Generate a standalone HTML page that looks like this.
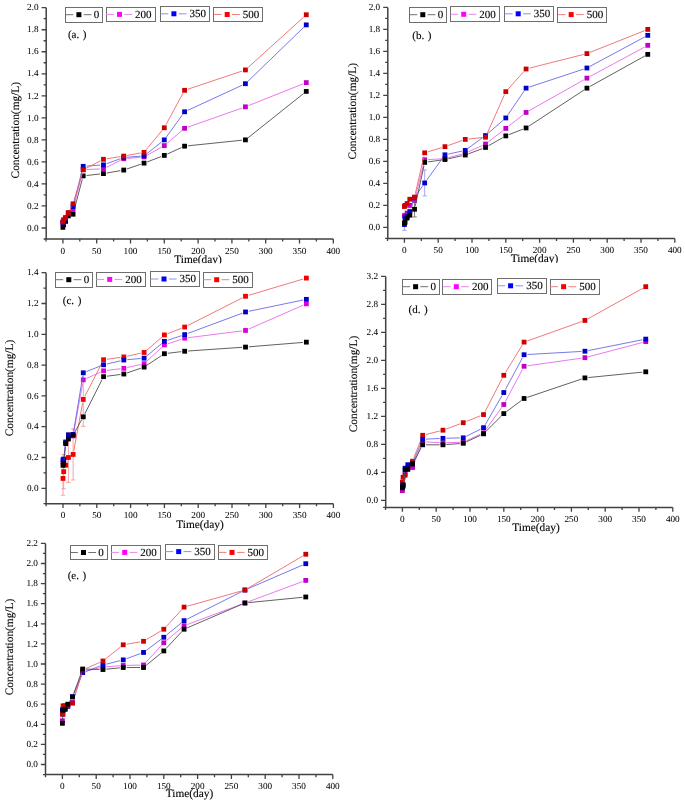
<!DOCTYPE html>
<html><head><meta charset="utf-8"><style>
html,body{margin:0;padding:0;background:#fff;width:685px;height:803px;overflow:hidden}
svg{display:block;filter:blur(0.3px)}
text{font-family:"Liberation Serif",serif;fill:#000;stroke:#000;stroke-width:0.12px;text-rendering:geometricPrecision}
.t{font-size:9.2px;stroke-width:0.04px}
.ti{font-size:11.35px}
.lg{font-size:11.0px}
</style></head><body>
<svg width="685" height="803" viewBox="0 0 685 803">
<rect width="685" height="803" fill="#fff"/>
<g><path d="M46.2 7.7V239.01H333.3" fill="none" stroke="#424242" stroke-width="1.5"/>
<text x="38.6" y="230.7" class="t" text-anchor="end">0.0</text>
<text x="38.6" y="208.67" class="t" text-anchor="end">0.2</text>
<text x="38.6" y="186.64" class="t" text-anchor="end">0.4</text>
<text x="38.6" y="164.61" class="t" text-anchor="end">0.6</text>
<text x="38.6" y="142.58" class="t" text-anchor="end">0.8</text>
<text x="38.6" y="120.55" class="t" text-anchor="end">1.0</text>
<text x="38.6" y="98.52" class="t" text-anchor="end">1.2</text>
<text x="38.6" y="76.49" class="t" text-anchor="end">1.4</text>
<text x="38.6" y="54.46" class="t" text-anchor="end">1.6</text>
<text x="38.6" y="32.43" class="t" text-anchor="end">1.8</text>
<text x="38.6" y="10.4" class="t" text-anchor="end">2.0</text>
<text x="62.9" y="253.61" class="t" text-anchor="middle">0</text>
<text x="96.7" y="253.61" class="t" text-anchor="middle">50</text>
<text x="130.5" y="253.61" class="t" text-anchor="middle">100</text>
<text x="164.3" y="253.61" class="t" text-anchor="middle">150</text>
<text x="198.1" y="253.61" class="t" text-anchor="middle">200</text>
<text x="231.9" y="253.61" class="t" text-anchor="middle">250</text>
<text x="265.7" y="253.61" class="t" text-anchor="middle">300</text>
<text x="299.5" y="253.61" class="t" text-anchor="middle">350</text>
<text x="333.3" y="253.61" class="t" text-anchor="middle">400</text>
<path d="M46.2 228h-4.6M46.2 216.99h-2.6M46.2 205.97h-4.6M46.2 194.95h-2.6M46.2 183.94h-4.6M46.2 172.93h-2.6M46.2 161.91h-4.6M46.2 150.89h-2.6M46.2 139.88h-4.6M46.2 128.87h-2.6M46.2 117.85h-4.6M46.2 106.83h-2.6M46.2 95.82h-4.6M46.2 84.8h-2.6M46.2 73.79h-4.6M46.2 62.77h-2.6M46.2 51.76h-4.6M46.2 40.74h-2.6M46.2 29.73h-4.6M46.2 18.71h-2.6M46.2 7.7h-4.6M46.2 239.01h-2.6M62.9 239.01v4.4M96.7 239.01v4.4M130.5 239.01v4.4M164.3 239.01v4.4M198.1 239.01v4.4M231.9 239.01v4.4M265.7 239.01v4.4M299.5 239.01v4.4M333.3 239.01v4.4M46 239.01v2.6M79.8 239.01v2.6M113.6 239.01v2.6M147.4 239.01v2.6M181.2 239.01v2.6M215 239.01v2.6M248.8 239.01v2.6M282.6 239.01v2.6M316.4 239.01v2.6" fill="none" stroke="#424242" stroke-width="1.3"/>
<text x="0" y="0" class="ti" text-anchor="middle" transform="translate(19.3 130.2) rotate(-90)">Concentration(mg/L)</text>
<clipPath id="clipa"><rect x="0" y="0" width="685" height="263.3"/></clipPath>
<text x="198" y="262.7" class="ti" text-anchor="middle" clip-path="url(#clipa)">Time(day)</text>
<text x="67.9" y="38.2" class="lg">(a. <tspan dx="0.8">)</tspan></text>
<rect x="65.5" y="7.5" width="37" height="15" fill="#fff" stroke="#6e6e6e" stroke-width="1"/>
<path d="M65.5 14.7h7.8M83.7 14.7h7.8" stroke="#707070" stroke-width="1"/>
<rect x="76.4" y="12.2" width="5" height="5" fill="#000000"/>
<text x="96.5" y="18.1" class="lg" text-anchor="middle">0</text>
<rect x="106.5" y="7.5" width="49" height="14" fill="#fff" stroke="#6e6e6e" stroke-width="1"/>
<path d="M106.1 14.4h7.8M124.3 14.4h7.8" stroke="#e888e8" stroke-width="1"/>
<rect x="117" y="11.9" width="5" height="5" fill="#ff00ff"/>
<text x="135.1" y="17.8" class="lg">200</text>
<rect x="160.5" y="6.5" width="49" height="15" fill="#fff" stroke="#6e6e6e" stroke-width="1"/>
<path d="M160.5 13.8h7.8M178.7 13.8h7.8" stroke="#9090e8" stroke-width="1"/>
<rect x="171.4" y="11.3" width="5" height="5" fill="#0000ff"/>
<text x="189.5" y="17.2" class="lg">350</text>
<rect x="213.5" y="7.5" width="49" height="14" fill="#fff" stroke="#6e6e6e" stroke-width="1"/>
<path d="M213.8 14.5h7.8M232 14.5h7.8" stroke="#ee8080" stroke-width="1"/>
<rect x="224.7" y="12" width="5" height="5" fill="#ff0000"/>
<text x="242.8" y="17.9" class="lg">500</text>
<path d="M73.91 210.94L82.31 179.19M86.56 175.51L100.08 173.97M106.81 173L120.39 170.64M126.96 168.96L140.8 164.22M147.2 161.91L161.12 156.62M167.39 154L181.49 147.57M187.96 145.81L242.04 140.23M248.08 137.76L303.6 93.53" fill="none" stroke="#454545" stroke-width="0.85"/>
<rect x="60.5" y="224.94" width="4.8" height="4.8" fill="#000000"/>
<rect x="61.18" y="222.3" width="4.8" height="4.8" fill="#000000"/>
<rect x="63.2" y="218.99" width="4.8" height="4.8" fill="#000000"/>
<rect x="65.91" y="213.48" width="4.8" height="4.8" fill="#000000"/>
<rect x="70.64" y="211.83" width="4.8" height="4.8" fill="#000000"/>
<rect x="80.78" y="173.5" width="4.8" height="4.8" fill="#000000"/>
<rect x="101.06" y="171.19" width="4.8" height="4.8" fill="#000000"/>
<rect x="121.34" y="167.66" width="4.8" height="4.8" fill="#000000"/>
<rect x="141.62" y="160.72" width="4.8" height="4.8" fill="#000000"/>
<rect x="161.9" y="153.01" width="4.8" height="4.8" fill="#000000"/>
<rect x="182.18" y="143.76" width="4.8" height="4.8" fill="#000000"/>
<rect x="243.02" y="137.48" width="4.8" height="4.8" fill="#000000"/>
<rect x="303.86" y="89.01" width="4.8" height="4.8" fill="#000000"/>
<path d="M73.88 206.2L82.34 172.92M86.58 169.49L100.06 168.98M106.5 167.33L120.7 160.24M127.13 158.42L140.63 157.25M146.99 155.29L161.33 147.27M166.89 143.4L181.99 130.52M187.79 127.18L242.21 107.97M248.58 105.58L303.1 83.86" fill="none" stroke="#e860e8" stroke-width="0.85"/>
<rect x="60.5" y="220.09" width="4.8" height="4.8" fill="#c000c8"/>
<rect x="61.18" y="218.44" width="4.8" height="4.8" fill="#c000c8"/>
<rect x="63.2" y="215.69" width="4.8" height="4.8" fill="#c000c8"/>
<rect x="65.91" y="211.28" width="4.8" height="4.8" fill="#c000c8"/>
<rect x="70.64" y="207.09" width="4.8" height="4.8" fill="#c000c8"/>
<rect x="80.78" y="167.22" width="4.8" height="4.8" fill="#c000c8"/>
<rect x="101.06" y="166.45" width="4.8" height="4.8" fill="#c000c8"/>
<rect x="121.34" y="156.32" width="4.8" height="4.8" fill="#c000c8"/>
<rect x="141.62" y="154.55" width="4.8" height="4.8" fill="#c000c8"/>
<rect x="161.9" y="143.21" width="4.8" height="4.8" fill="#c000c8"/>
<rect x="182.18" y="125.91" width="4.8" height="4.8" fill="#c000c8"/>
<rect x="243.02" y="104.43" width="4.8" height="4.8" fill="#c000c8"/>
<rect x="303.86" y="80.2" width="4.8" height="4.8" fill="#c000c8"/>
<path d="M70.29 210.37L71.06 209.29M73.87 203.22L82.35 169.61M86.57 166.08L100.07 165.12M106.66 163.72L120.54 158.67M127.13 157.23L140.63 156.13M146.69 153.75L161.63 141.98M166.29 137.12L182.59 114.55M187.67 110.37L242.33 85.13M247.86 81.34L303.82 27.25" fill="none" stroke="#6060e8" stroke-width="0.85"/>
<rect x="60.5" y="220.09" width="4.8" height="4.8" fill="#0000c8"/>
<rect x="61.18" y="218.99" width="4.8" height="4.8" fill="#0000c8"/>
<rect x="63.2" y="215.69" width="4.8" height="4.8" fill="#0000c8"/>
<rect x="65.91" y="210.73" width="4.8" height="4.8" fill="#0000c8"/>
<rect x="70.64" y="204.12" width="4.8" height="4.8" fill="#0000c8"/>
<rect x="80.78" y="163.92" width="4.8" height="4.8" fill="#0000c8"/>
<rect x="101.06" y="162.48" width="4.8" height="4.8" fill="#0000c8"/>
<rect x="121.34" y="155.1" width="4.8" height="4.8" fill="#0000c8"/>
<rect x="141.62" y="153.45" width="4.8" height="4.8" fill="#0000c8"/>
<rect x="161.9" y="137.48" width="4.8" height="4.8" fill="#0000c8"/>
<rect x="182.18" y="109.39" width="4.8" height="4.8" fill="#0000c8"/>
<rect x="243.02" y="81.3" width="4.8" height="4.8" fill="#0000c8"/>
<rect x="303.86" y="22.48" width="4.8" height="4.8" fill="#0000c8"/>
<path d="M69.92 209.58L71.43 206.76M74.01 200.51L82.21 173.1M86.19 168.27L100.45 160.84M106.82 158.74L120.38 156.6M127.08 155.45L140.68 152.94M146.18 149.71L162.14 130.39M165.92 124.77L182.96 93.3M187.8 89.23L242.2 71.01M247.94 67.65L303.74 17.03" fill="none" stroke="#ee6060" stroke-width="0.85"/>
<rect x="60.5" y="219.54" width="4.8" height="4.8" fill="#cc0000"/>
<rect x="61.18" y="217.34" width="4.8" height="4.8" fill="#cc0000"/>
<rect x="63.2" y="215.14" width="4.8" height="4.8" fill="#cc0000"/>
<rect x="65.91" y="210.18" width="4.8" height="4.8" fill="#cc0000"/>
<rect x="70.64" y="201.37" width="4.8" height="4.8" fill="#cc0000"/>
<rect x="80.78" y="167.44" width="4.8" height="4.8" fill="#cc0000"/>
<rect x="101.06" y="156.87" width="4.8" height="4.8" fill="#cc0000"/>
<rect x="121.34" y="153.67" width="4.8" height="4.8" fill="#cc0000"/>
<rect x="141.62" y="149.93" width="4.8" height="4.8" fill="#cc0000"/>
<rect x="161.9" y="125.36" width="4.8" height="4.8" fill="#cc0000"/>
<rect x="182.18" y="87.91" width="4.8" height="4.8" fill="#cc0000"/>
<rect x="243.02" y="67.53" width="4.8" height="4.8" fill="#cc0000"/>
<rect x="303.86" y="12.35" width="4.8" height="4.8" fill="#cc0000"/></g>
<g><path d="M387.8 7.4V238.4H674.8" fill="none" stroke="#424242" stroke-width="1.5"/>
<text x="380.2" y="230.1" class="t" text-anchor="end">0.0</text>
<text x="380.2" y="208.1" class="t" text-anchor="end">0.2</text>
<text x="380.2" y="186.1" class="t" text-anchor="end">0.4</text>
<text x="380.2" y="164.1" class="t" text-anchor="end">0.6</text>
<text x="380.2" y="142.1" class="t" text-anchor="end">0.8</text>
<text x="380.2" y="120.1" class="t" text-anchor="end">1.0</text>
<text x="380.2" y="98.1" class="t" text-anchor="end">1.2</text>
<text x="380.2" y="76.1" class="t" text-anchor="end">1.4</text>
<text x="380.2" y="54.1" class="t" text-anchor="end">1.6</text>
<text x="380.2" y="32.1" class="t" text-anchor="end">1.8</text>
<text x="380.2" y="10.1" class="t" text-anchor="end">2.0</text>
<text x="404.4" y="253" class="t" text-anchor="middle">0</text>
<text x="438.2" y="253" class="t" text-anchor="middle">50</text>
<text x="472" y="253" class="t" text-anchor="middle">100</text>
<text x="505.8" y="253" class="t" text-anchor="middle">150</text>
<text x="539.6" y="253" class="t" text-anchor="middle">200</text>
<text x="573.4" y="253" class="t" text-anchor="middle">250</text>
<text x="607.2" y="253" class="t" text-anchor="middle">300</text>
<text x="641" y="253" class="t" text-anchor="middle">350</text>
<text x="674.8" y="253" class="t" text-anchor="middle">400</text>
<path d="M387.8 227.4h-4.6M387.8 216.4h-2.6M387.8 205.4h-4.6M387.8 194.4h-2.6M387.8 183.4h-4.6M387.8 172.4h-2.6M387.8 161.4h-4.6M387.8 150.4h-2.6M387.8 139.4h-4.6M387.8 128.4h-2.6M387.8 117.4h-4.6M387.8 106.4h-2.6M387.8 95.4h-4.6M387.8 84.4h-2.6M387.8 73.4h-4.6M387.8 62.4h-2.6M387.8 51.4h-4.6M387.8 40.4h-2.6M387.8 29.4h-4.6M387.8 18.4h-2.6M387.8 7.4h-4.6M387.8 238.4h-2.6M404.4 238.4v4.4M438.2 238.4v4.4M472 238.4v4.4M505.8 238.4v4.4M539.6 238.4v4.4M573.4 238.4v4.4M607.2 238.4v4.4M641 238.4v4.4M674.8 238.4v4.4M387.5 238.4v2.6M421.3 238.4v2.6M455.1 238.4v2.6M488.9 238.4v2.6M522.7 238.4v2.6M556.5 238.4v2.6M590.3 238.4v2.6M624.1 238.4v2.6M657.9 238.4v2.6" fill="none" stroke="#424242" stroke-width="1.3"/>
<text x="0" y="0" class="ti" text-anchor="middle" transform="translate(356.3 111.2) rotate(-90)">Concentration(mg/L)</text>
<clipPath id="clipb"><rect x="0" y="0" width="685" height="262.8"/></clipPath>
<text x="534.5" y="262.2" class="ti" text-anchor="middle" clip-path="url(#clipb)">Time(day)</text>
<text x="412.3" y="38.5" class="lg">(b. <tspan dx="0.8">)</tspan></text>
<rect x="409.5" y="7.5" width="37" height="15" fill="#fff" stroke="#6e6e6e" stroke-width="1"/>
<path d="M409.4 14.7h7.8M427.6 14.7h7.8" stroke="#707070" stroke-width="1"/>
<rect x="420.3" y="12.2" width="5" height="5" fill="#000000"/>
<text x="440.4" y="18.1" class="lg" text-anchor="middle">0</text>
<rect x="450.5" y="6.5" width="49" height="15" fill="#fff" stroke="#6e6e6e" stroke-width="1"/>
<path d="M450.3 14.3h7.8M468.5 14.3h7.8" stroke="#e888e8" stroke-width="1"/>
<rect x="461.2" y="11.8" width="5" height="5" fill="#ff00ff"/>
<text x="479.3" y="17.7" class="lg">200</text>
<rect x="504.5" y="6.5" width="49" height="15" fill="#fff" stroke="#6e6e6e" stroke-width="1"/>
<path d="M504.8 13.8h7.8M523 13.8h7.8" stroke="#9090e8" stroke-width="1"/>
<rect x="515.7" y="11.3" width="5" height="5" fill="#0000ff"/>
<text x="533.8" y="17.2" class="lg">350</text>
<rect x="557.5" y="7.5" width="49" height="15" fill="#fff" stroke="#6e6e6e" stroke-width="1"/>
<path d="M557.8 14.6h7.8M576 14.6h7.8" stroke="#ee8080" stroke-width="1"/>
<rect x="568.7" y="12.1" width="5" height="5" fill="#ff0000"/>
<text x="586.8" y="18" class="lg">500</text>
<path d="M408.23 209.89L408.68 208.61M415.36 197.15L423.86 163.05M428.08 159.57L441.56 158.83M448.24 157.76L461.96 154.04M468.34 151.75L482.42 145.42M488.21 141.95L503.11 130.47M508.47 126.3L523.41 114.55M529.04 110.78L583.96 79.8M589.91 76.52L644.77 46.96" fill="none" stroke="#e860e8" stroke-width="0.85"/>
<rect x="402" y="213.45" width="4.8" height="4.8" fill="#c000c8"/>
<rect x="402.68" y="212.9" width="4.8" height="4.8" fill="#c000c8"/>
<rect x="404.7" y="210.7" width="4.8" height="4.8" fill="#c000c8"/>
<rect x="407.41" y="203" width="4.8" height="4.8" fill="#c000c8"/>
<rect x="412.14" y="198.05" width="4.8" height="4.8" fill="#c000c8"/>
<rect x="422.28" y="157.35" width="4.8" height="4.8" fill="#c000c8"/>
<rect x="442.56" y="156.25" width="4.8" height="4.8" fill="#c000c8"/>
<rect x="462.84" y="150.75" width="4.8" height="4.8" fill="#c000c8"/>
<rect x="483.12" y="141.62" width="4.8" height="4.8" fill="#c000c8"/>
<rect x="503.4" y="126" width="4.8" height="4.8" fill="#c000c8"/>
<rect x="523.68" y="110.05" width="4.8" height="4.8" fill="#c000c8"/>
<rect x="584.52" y="75.73" width="4.8" height="4.8" fill="#c000c8"/>
<rect x="645.36" y="42.95" width="4.8" height="4.8" fill="#c000c8"/>
<path d="M410.91 208.34L413.44 200.92M416.47 194.9L422.75 185.76M426.67 180.2L442.97 157.56M448.28 154.08L461.92 151.12M467.98 148.39L482.78 137.56M488.09 133.32L503.23 120.18M507.71 115.14L524.17 90.95M529.31 87.07L583.69 69.08M589.92 66.4L644.76 36.95" fill="none" stroke="#6060e8" stroke-width="0.85"/>
<path d="M404.4 218.82V230.26M402.2 218.82h4.4M402.2 230.26h4.4" stroke="#9090f0" stroke-width="0.8" fill="none"/>
<path d="M424.68 169.98V195.94M422.48 169.98h4.4M422.48 195.94h4.4" stroke="#9090f0" stroke-width="0.8" fill="none"/>
<rect x="402" y="222.14" width="4.8" height="4.8" fill="#0000c8"/>
<rect x="402.68" y="215.1" width="4.8" height="4.8" fill="#0000c8"/>
<rect x="404.7" y="214" width="4.8" height="4.8" fill="#0000c8"/>
<rect x="407.41" y="209.16" width="4.8" height="4.8" fill="#0000c8"/>
<rect x="412.14" y="195.3" width="4.8" height="4.8" fill="#0000c8"/>
<rect x="422.28" y="180.56" width="4.8" height="4.8" fill="#0000c8"/>
<rect x="442.56" y="152.4" width="4.8" height="4.8" fill="#0000c8"/>
<rect x="462.84" y="148" width="4.8" height="4.8" fill="#0000c8"/>
<rect x="483.12" y="133.15" width="4.8" height="4.8" fill="#0000c8"/>
<rect x="503.4" y="115.55" width="4.8" height="4.8" fill="#0000c8"/>
<rect x="523.68" y="85.74" width="4.8" height="4.8" fill="#0000c8"/>
<rect x="584.52" y="65.61" width="4.8" height="4.8" fill="#0000c8"/>
<rect x="645.36" y="32.94" width="4.8" height="4.8" fill="#0000c8"/>
<path d="M411.93 212.53L412.42 211.91M415.26 205.93L423.96 165.71M428.05 161.92L441.59 160M448.28 158.79L461.92 155.76M468.42 153.83L482.34 148.62M488.47 145.75L502.85 137.56M508.97 134.64L522.91 129.2M528.92 126.1L584.08 90M589.89 86.49L644.79 56.02" fill="none" stroke="#454545" stroke-width="0.85"/>
<path d="M414.54 201.55V216.95M412.34 201.55h4.4M412.34 216.95h4.4" stroke="#606060" stroke-width="0.8" fill="none"/>
<rect x="402" y="220.6" width="4.8" height="4.8" fill="#000000"/>
<rect x="402.68" y="219.83" width="4.8" height="4.8" fill="#000000"/>
<rect x="404.7" y="215.65" width="4.8" height="4.8" fill="#000000"/>
<rect x="407.41" y="212.79" width="4.8" height="4.8" fill="#000000"/>
<rect x="412.14" y="206.85" width="4.8" height="4.8" fill="#000000"/>
<rect x="422.28" y="159.99" width="4.8" height="4.8" fill="#000000"/>
<rect x="442.56" y="157.13" width="4.8" height="4.8" fill="#000000"/>
<rect x="462.84" y="152.62" width="4.8" height="4.8" fill="#000000"/>
<rect x="483.12" y="145.03" width="4.8" height="4.8" fill="#000000"/>
<rect x="503.4" y="133.48" width="4.8" height="4.8" fill="#000000"/>
<rect x="523.68" y="125.56" width="4.8" height="4.8" fill="#000000"/>
<rect x="584.52" y="85.74" width="4.8" height="4.8" fill="#000000"/>
<rect x="645.36" y="51.97" width="4.8" height="4.8" fill="#000000"/>
<path d="M415.3 193.73L423.92 156.13M427.93 151.83L441.71 147.65M448.16 145.51L462.04 140.55M468.62 139.03L482.14 137.57M486.9 134.09L504.42 94.77M508.07 89.13L523.81 71.53M529.38 68.17L583.62 54.43M590.08 52.34L644.6 30.66" fill="none" stroke="#ee6060" stroke-width="0.85"/>
<rect x="402" y="204.1" width="4.8" height="4.8" fill="#cc0000"/>
<rect x="402.68" y="203" width="4.8" height="4.8" fill="#cc0000"/>
<rect x="404.7" y="201.13" width="4.8" height="4.8" fill="#cc0000"/>
<rect x="407.41" y="196.84" width="4.8" height="4.8" fill="#cc0000"/>
<rect x="412.14" y="194.64" width="4.8" height="4.8" fill="#cc0000"/>
<rect x="422.28" y="150.42" width="4.8" height="4.8" fill="#cc0000"/>
<rect x="442.56" y="144.26" width="4.8" height="4.8" fill="#cc0000"/>
<rect x="462.84" y="137" width="4.8" height="4.8" fill="#cc0000"/>
<rect x="483.12" y="134.8" width="4.8" height="4.8" fill="#cc0000"/>
<rect x="503.4" y="89.26" width="4.8" height="4.8" fill="#cc0000"/>
<rect x="523.68" y="66.6" width="4.8" height="4.8" fill="#cc0000"/>
<rect x="584.52" y="51.2" width="4.8" height="4.8" fill="#cc0000"/>
<rect x="645.36" y="27" width="4.8" height="4.8" fill="#cc0000"/></g>
<g><path d="M46.1 272.7V503.7H333.4" fill="none" stroke="#424242" stroke-width="1.5"/>
<text x="38.5" y="491" class="t" text-anchor="end">0.0</text>
<text x="38.5" y="460.2" class="t" text-anchor="end">0.2</text>
<text x="38.5" y="429.4" class="t" text-anchor="end">0.4</text>
<text x="38.5" y="398.6" class="t" text-anchor="end">0.6</text>
<text x="38.5" y="367.8" class="t" text-anchor="end">0.8</text>
<text x="38.5" y="337" class="t" text-anchor="end">1.0</text>
<text x="38.5" y="306.2" class="t" text-anchor="end">1.2</text>
<text x="38.5" y="275.4" class="t" text-anchor="end">1.4</text>
<text x="63" y="518.3" class="t" text-anchor="middle">0</text>
<text x="96.8" y="518.3" class="t" text-anchor="middle">50</text>
<text x="130.6" y="518.3" class="t" text-anchor="middle">100</text>
<text x="164.4" y="518.3" class="t" text-anchor="middle">150</text>
<text x="198.2" y="518.3" class="t" text-anchor="middle">200</text>
<text x="232" y="518.3" class="t" text-anchor="middle">250</text>
<text x="265.8" y="518.3" class="t" text-anchor="middle">300</text>
<text x="299.6" y="518.3" class="t" text-anchor="middle">350</text>
<text x="333.4" y="518.3" class="t" text-anchor="middle">400</text>
<path d="M46.1 488.3h-4.6M46.1 472.9h-2.6M46.1 457.5h-4.6M46.1 442.1h-2.6M46.1 426.7h-4.6M46.1 411.3h-2.6M46.1 395.9h-4.6M46.1 380.5h-2.6M46.1 365.1h-4.6M46.1 349.7h-2.6M46.1 334.3h-4.6M46.1 318.9h-2.6M46.1 303.5h-4.6M46.1 288.1h-2.6M46.1 272.7h-4.6M46.1 503.7h-2.6M63 503.7v4.4M96.8 503.7v4.4M130.6 503.7v4.4M164.4 503.7v4.4M198.2 503.7v4.4M232 503.7v4.4M265.8 503.7v4.4M299.6 503.7v4.4M333.4 503.7v4.4M46.1 503.7v2.6M79.9 503.7v2.6M113.7 503.7v2.6M147.5 503.7v2.6M181.3 503.7v2.6M215.1 503.7v2.6M248.9 503.7v2.6M282.7 503.7v2.6M316.5 503.7v2.6" fill="none" stroke="#424242" stroke-width="1.3"/>
<text x="0" y="0" class="ti" text-anchor="middle" transform="translate(12.6 388) rotate(-90)">Concentration(mg/L)</text>
<text x="200" y="527.7" class="ti" text-anchor="middle">Time(day)</text>
<text x="62.8" y="304.3" class="lg">(c. <tspan dx="0.8">)</tspan></text>
<rect x="55.5" y="272.5" width="37" height="15" fill="#fff" stroke="#6e6e6e" stroke-width="1"/>
<path d="M55.4 279.7h7.8M73.6 279.7h7.8" stroke="#707070" stroke-width="1"/>
<rect x="66.3" y="277.2" width="5" height="5" fill="#000000"/>
<text x="86.4" y="283.1" class="lg" text-anchor="middle">0</text>
<rect x="96.5" y="272.5" width="49" height="14" fill="#fff" stroke="#6e6e6e" stroke-width="1"/>
<path d="M96.3 279.4h7.8M114.5 279.4h7.8" stroke="#e888e8" stroke-width="1"/>
<rect x="107.2" y="276.9" width="5" height="5" fill="#ff00ff"/>
<text x="125.3" y="282.8" class="lg">200</text>
<rect x="150.5" y="271.5" width="49" height="15" fill="#fff" stroke="#6e6e6e" stroke-width="1"/>
<path d="M150.6 279h7.8M168.8 279h7.8" stroke="#9090e8" stroke-width="1"/>
<rect x="161.5" y="276.5" width="5" height="5" fill="#0000ff"/>
<text x="179.6" y="282.4" class="lg">350</text>
<rect x="203.5" y="272.5" width="49" height="15" fill="#fff" stroke="#6e6e6e" stroke-width="1"/>
<path d="M203.3 279.7h7.8M221.5 279.7h7.8" stroke="#ee8080" stroke-width="1"/>
<rect x="214.2" y="277.2" width="5" height="5" fill="#ff0000"/>
<text x="232.3" y="283.1" class="lg">500</text>
<path d="M66.83 461.99L67.28 460.71M73.76 451.08L82.66 402.79M84.83 396.41L102.01 362.74M106.93 359.25L120.47 357.4M127.16 356.21L140.8 353.2M146.69 350.25L161.83 337.14M167.57 333.69L181.51 328.29M187.71 325.53L242.49 297.8M248.78 295.29L303.1 279.06" fill="none" stroke="#ee6060" stroke-width="0.85"/>
<path d="M63 461.66V495.23M60.8 461.66h4.4M60.8 495.23h4.4" stroke="#f09090" stroke-width="0.8" fill="none"/>
<path d="M63.68 454.57V488.76M61.48 454.57h4.4M61.48 488.76h4.4" stroke="#f09090" stroke-width="0.8" fill="none"/>
<path d="M68.41 432.55V482.45M66.21 432.55h4.4M66.21 482.45h4.4" stroke="#f09090" stroke-width="0.8" fill="none"/>
<path d="M73.14 428.86V479.98M70.94 428.86h4.4M70.94 479.98h4.4" stroke="#f09090" stroke-width="0.8" fill="none"/>
<path d="M83.28 372.49V426.39M81.08 372.49h4.4M81.08 426.39h4.4" stroke="#f09090" stroke-width="0.8" fill="none"/>
<rect x="60.6" y="476.04" width="4.8" height="4.8" fill="#f00000"/>
<rect x="61.28" y="469.27" width="4.8" height="4.8" fill="#f00000"/>
<rect x="63.3" y="462.8" width="4.8" height="4.8" fill="#f00000"/>
<rect x="66.01" y="455.1" width="4.8" height="4.8" fill="#f00000"/>
<rect x="70.74" y="452.02" width="4.8" height="4.8" fill="#f00000"/>
<rect x="80.88" y="397.04" width="4.8" height="4.8" fill="#f00000"/>
<rect x="101.16" y="357.31" width="4.8" height="4.8" fill="#f00000"/>
<rect x="121.44" y="354.54" width="4.8" height="4.8" fill="#f00000"/>
<rect x="141.72" y="350.07" width="4.8" height="4.8" fill="#f00000"/>
<rect x="162" y="332.52" width="4.8" height="4.8" fill="#f00000"/>
<rect x="182.28" y="324.66" width="4.8" height="4.8" fill="#f00000"/>
<rect x="243.12" y="293.86" width="4.8" height="4.8" fill="#f00000"/>
<rect x="303.96" y="275.69" width="4.8" height="4.8" fill="#f00000"/>
<path d="M64.05 457.2L65.33 445.48M73.75 432.59L82.67 383.23M86.38 378.49L100.46 372.19M106.94 370.39L120.46 368.74M127.16 367.58L140.8 364.47M146.61 361.4L161.91 347.24M167.62 343.85L181.46 339.23M188.05 337.72L242.15 330.88M248.63 329.09L303.25 305.17" fill="none" stroke="#e860e8" stroke-width="0.85"/>
<rect x="60.6" y="459.72" width="4.8" height="4.8" fill="#dc00dc"/>
<rect x="61.28" y="458.18" width="4.8" height="4.8" fill="#dc00dc"/>
<rect x="63.3" y="439.7" width="4.8" height="4.8" fill="#dc00dc"/>
<rect x="66.01" y="435.08" width="4.8" height="4.8" fill="#dc00dc"/>
<rect x="70.74" y="433.54" width="4.8" height="4.8" fill="#dc00dc"/>
<rect x="80.88" y="377.48" width="4.8" height="4.8" fill="#dc00dc"/>
<rect x="101.16" y="368.4" width="4.8" height="4.8" fill="#dc00dc"/>
<rect x="121.44" y="365.93" width="4.8" height="4.8" fill="#dc00dc"/>
<rect x="141.72" y="361.31" width="4.8" height="4.8" fill="#dc00dc"/>
<rect x="162" y="342.53" width="4.8" height="4.8" fill="#dc00dc"/>
<rect x="182.28" y="335.75" width="4.8" height="4.8" fill="#dc00dc"/>
<rect x="243.12" y="328.05" width="4.8" height="4.8" fill="#dc00dc"/>
<rect x="303.96" y="301.41" width="4.8" height="4.8" fill="#dc00dc"/>
<path d="M64.08 455.66L65.3 445.48M66.89 438.92L67.22 438.05M73.69 431.05L82.73 376.15M86.44 371.55L100.4 366.04M106.87 364.01L120.53 360.8M127.23 359.71L140.73 358.48M146.74 356L161.78 343.55M167.62 340.31L181.46 335.69M187.87 333.42L242.33 313.16M248.85 311.28L303.03 300.03" fill="none" stroke="#6060e8" stroke-width="0.85"/>
<rect x="60.6" y="457.41" width="4.8" height="4.8" fill="#0000c8"/>
<rect x="61.28" y="456.64" width="4.8" height="4.8" fill="#0000c8"/>
<rect x="63.3" y="439.7" width="4.8" height="4.8" fill="#0000c8"/>
<rect x="66.01" y="432.46" width="4.8" height="4.8" fill="#0000c8"/>
<rect x="70.74" y="432" width="4.8" height="4.8" fill="#0000c8"/>
<rect x="80.88" y="370.4" width="4.8" height="4.8" fill="#0000c8"/>
<rect x="101.16" y="362.39" width="4.8" height="4.8" fill="#0000c8"/>
<rect x="121.44" y="357.62" width="4.8" height="4.8" fill="#0000c8"/>
<rect x="141.72" y="355.77" width="4.8" height="4.8" fill="#0000c8"/>
<rect x="162" y="338.98" width="4.8" height="4.8" fill="#0000c8"/>
<rect x="182.28" y="332.21" width="4.8" height="4.8" fill="#0000c8"/>
<rect x="243.12" y="309.57" width="4.8" height="4.8" fill="#0000c8"/>
<rect x="303.96" y="296.94" width="4.8" height="4.8" fill="#0000c8"/>
<path d="M64.02 460.28L65.36 447.02M74.79 432.2L81.63 419.82M84.81 413.81L102.03 379.69M106.93 376.21L120.47 374.47M127.06 372.93L140.9 368.2M146.96 365.23L161.56 355.58M167.78 353.29L181.3 351.65M188.07 351.01L242.13 347.31M248.91 346.81L302.97 342.43" fill="none" stroke="#454545" stroke-width="0.85"/>
<rect x="60.6" y="462.95" width="4.8" height="4.8" fill="#000000"/>
<rect x="61.28" y="461.26" width="4.8" height="4.8" fill="#000000"/>
<rect x="63.3" y="441.24" width="4.8" height="4.8" fill="#000000"/>
<rect x="66.01" y="436.62" width="4.8" height="4.8" fill="#000000"/>
<rect x="70.74" y="432.77" width="4.8" height="4.8" fill="#000000"/>
<rect x="80.88" y="414.44" width="4.8" height="4.8" fill="#000000"/>
<rect x="101.16" y="374.25" width="4.8" height="4.8" fill="#000000"/>
<rect x="121.44" y="371.63" width="4.8" height="4.8" fill="#000000"/>
<rect x="141.72" y="364.7" width="4.8" height="4.8" fill="#000000"/>
<rect x="162" y="351.3" width="4.8" height="4.8" fill="#000000"/>
<rect x="182.28" y="348.84" width="4.8" height="4.8" fill="#000000"/>
<rect x="243.12" y="344.68" width="4.8" height="4.8" fill="#000000"/>
<rect x="303.96" y="339.75" width="4.8" height="4.8" fill="#000000"/></g>
<g><path d="M385.7 276.4V507.4H672.8" fill="none" stroke="#424242" stroke-width="1.5"/>
<text x="378.1" y="503.1" class="t" text-anchor="end">0.0</text>
<text x="378.1" y="475.1" class="t" text-anchor="end">0.4</text>
<text x="378.1" y="447.1" class="t" text-anchor="end">0.8</text>
<text x="378.1" y="419.1" class="t" text-anchor="end">1.2</text>
<text x="378.1" y="391.1" class="t" text-anchor="end">1.6</text>
<text x="378.1" y="363.1" class="t" text-anchor="end">2.0</text>
<text x="378.1" y="335.1" class="t" text-anchor="end">2.4</text>
<text x="378.1" y="307.1" class="t" text-anchor="end">2.8</text>
<text x="378.1" y="279.1" class="t" text-anchor="end">3.2</text>
<text x="402.4" y="522" class="t" text-anchor="middle">0</text>
<text x="436.2" y="522" class="t" text-anchor="middle">50</text>
<text x="470" y="522" class="t" text-anchor="middle">100</text>
<text x="503.8" y="522" class="t" text-anchor="middle">150</text>
<text x="537.6" y="522" class="t" text-anchor="middle">200</text>
<text x="571.4" y="522" class="t" text-anchor="middle">250</text>
<text x="605.2" y="522" class="t" text-anchor="middle">300</text>
<text x="639" y="522" class="t" text-anchor="middle">350</text>
<text x="672.8" y="522" class="t" text-anchor="middle">400</text>
<path d="M385.7 500.4h-4.6M385.7 486.4h-2.6M385.7 472.4h-4.6M385.7 458.4h-2.6M385.7 444.4h-4.6M385.7 430.4h-2.6M385.7 416.4h-4.6M385.7 402.4h-2.6M385.7 388.4h-4.6M385.7 374.4h-2.6M385.7 360.4h-4.6M385.7 346.4h-2.6M385.7 332.4h-4.6M385.7 318.4h-2.6M385.7 304.4h-4.6M385.7 290.4h-2.6M385.7 276.4h-4.6M385.7 507.4h-2.6M402.4 507.4v4.4M436.2 507.4v4.4M470 507.4v4.4M503.8 507.4v4.4M537.6 507.4v4.4M571.4 507.4v4.4M605.2 507.4v4.4M639 507.4v4.4M672.8 507.4v4.4M385.5 507.4v2.6M419.3 507.4v2.6M453.1 507.4v2.6M486.9 507.4v2.6M520.7 507.4v2.6M554.5 507.4v2.6M588.3 507.4v2.6M622.1 507.4v2.6M655.9 507.4v2.6" fill="none" stroke="#424242" stroke-width="1.3"/>
<text x="0" y="0" class="ti" text-anchor="middle" transform="translate(357.1 384) rotate(-90)">Concentration(mg/L)</text>
<text x="536" y="531" class="ti" text-anchor="middle">Time(day)</text>
<text x="408.5" y="313" class="lg">(d. <tspan dx="0.8">)</tspan></text>
<rect x="402.5" y="279.5" width="37" height="15" fill="#fff" stroke="#6e6e6e" stroke-width="1"/>
<path d="M402.2 286.7h7.8M420.4 286.7h7.8" stroke="#707070" stroke-width="1"/>
<rect x="413.1" y="284.2" width="5" height="5" fill="#000000"/>
<text x="433.2" y="290.1" class="lg" text-anchor="middle">0</text>
<rect x="442.5" y="279.5" width="49" height="15" fill="#fff" stroke="#6e6e6e" stroke-width="1"/>
<path d="M442.9 286.7h7.8M461.1 286.7h7.8" stroke="#e888e8" stroke-width="1"/>
<rect x="453.8" y="284.2" width="5" height="5" fill="#ff00ff"/>
<text x="471.9" y="290.1" class="lg">200</text>
<rect x="497.5" y="278.5" width="49" height="15" fill="#fff" stroke="#6e6e6e" stroke-width="1"/>
<path d="M497.2 285.8h7.8M515.4 285.8h7.8" stroke="#9090e8" stroke-width="1"/>
<rect x="508.1" y="283.3" width="5" height="5" fill="#0000ff"/>
<text x="526.2" y="289.2" class="lg">350</text>
<rect x="550.5" y="279.5" width="49" height="15" fill="#fff" stroke="#6e6e6e" stroke-width="1"/>
<path d="M550.2 286.7h7.8M568.4 286.7h7.8" stroke="#ee8080" stroke-width="1"/>
<rect x="561.1" y="284.2" width="5" height="5" fill="#ff0000"/>
<text x="579.2" y="290.1" class="lg">500</text>
<path d="M403.62 483.04L404.56 477.16M413.79 464.34L421.43 444.97M426.08 441.97L439.56 442.63M446.36 442.71L459.84 442.38M466.32 440.86L480.44 434.22M485.5 430.02L501.82 407.26M505.39 401.5L522.49 369.28M527.45 365.8L581.55 358.15M588.21 356.8L642.47 342.51" fill="none" stroke="#e860e8" stroke-width="0.85"/>
<rect x="400" y="488.2" width="4.8" height="4.8" fill="#c000c8"/>
<rect x="400.68" y="484" width="4.8" height="4.8" fill="#c000c8"/>
<rect x="402.7" y="471.4" width="4.8" height="4.8" fill="#c000c8"/>
<rect x="405.41" y="467.2" width="4.8" height="4.8" fill="#c000c8"/>
<rect x="410.14" y="465.1" width="4.8" height="4.8" fill="#c000c8"/>
<rect x="420.28" y="439.41" width="4.8" height="4.8" fill="#c000c8"/>
<rect x="440.56" y="440.39" width="4.8" height="4.8" fill="#c000c8"/>
<rect x="460.84" y="439.9" width="4.8" height="4.8" fill="#c000c8"/>
<rect x="481.12" y="430.38" width="4.8" height="4.8" fill="#c000c8"/>
<rect x="501.4" y="402.1" width="4.8" height="4.8" fill="#c000c8"/>
<rect x="521.68" y="363.88" width="4.8" height="4.8" fill="#c000c8"/>
<rect x="582.52" y="355.27" width="4.8" height="4.8" fill="#c000c8"/>
<rect x="643.36" y="339.24" width="4.8" height="4.8" fill="#c000c8"/>
<path d="M406.23 471.99L406.68 470.71M409.85 464.78L410.5 463.92M413.78 458.03L421.44 438.47M425.98 434.47L439.66 431.02M446.15 429.01L460.05 423.88M466.4 421.44L480.36 415.84M485.08 411.56L502.24 378.33M505.57 372.41L522.31 345.03M527.28 340.99L581.72 321.57M587.89 318.78L642.79 288.34" fill="none" stroke="#ee6060" stroke-width="0.85"/>
<rect x="400" y="479.8" width="4.8" height="4.8" fill="#cc0000"/>
<rect x="400.68" y="474.9" width="4.8" height="4.8" fill="#cc0000"/>
<rect x="402.7" y="472.8" width="4.8" height="4.8" fill="#cc0000"/>
<rect x="405.41" y="465.1" width="4.8" height="4.8" fill="#cc0000"/>
<rect x="410.14" y="458.8" width="4.8" height="4.8" fill="#cc0000"/>
<rect x="420.28" y="432.9" width="4.8" height="4.8" fill="#cc0000"/>
<rect x="440.56" y="427.79" width="4.8" height="4.8" fill="#cc0000"/>
<rect x="460.84" y="420.3" width="4.8" height="4.8" fill="#cc0000"/>
<rect x="481.12" y="412.18" width="4.8" height="4.8" fill="#cc0000"/>
<rect x="501.4" y="372.91" width="4.8" height="4.8" fill="#cc0000"/>
<rect x="521.68" y="339.73" width="4.8" height="4.8" fill="#cc0000"/>
<rect x="582.52" y="318.03" width="4.8" height="4.8" fill="#cc0000"/>
<rect x="643.36" y="284.29" width="4.8" height="4.8" fill="#cc0000"/>
<path d="M403.48 481.62L404.7 471.58M413.86 460.17L421.36 442.42M426.08 439.13L439.56 438.47M446.36 438.23L459.84 437.9M466.28 436.3L480.48 429.19M485.22 424.73L502.1 395.47M505.41 389.53L522.47 357.73M527.47 354.53L581.53 351.43M588.25 350.57L642.43 339.78" fill="none" stroke="#6060e8" stroke-width="0.85"/>
<rect x="400" y="484" width="4.8" height="4.8" fill="#0000c8"/>
<rect x="400.68" y="482.6" width="4.8" height="4.8" fill="#0000c8"/>
<rect x="402.7" y="465.8" width="4.8" height="4.8" fill="#0000c8"/>
<rect x="405.41" y="462.3" width="4.8" height="4.8" fill="#0000c8"/>
<rect x="410.14" y="460.9" width="4.8" height="4.8" fill="#0000c8"/>
<rect x="420.28" y="436.89" width="4.8" height="4.8" fill="#0000c8"/>
<rect x="440.56" y="435.91" width="4.8" height="4.8" fill="#0000c8"/>
<rect x="460.84" y="435.42" width="4.8" height="4.8" fill="#0000c8"/>
<rect x="481.12" y="425.27" width="4.8" height="4.8" fill="#0000c8"/>
<rect x="501.4" y="390.13" width="4.8" height="4.8" fill="#0000c8"/>
<rect x="521.68" y="352.33" width="4.8" height="4.8" fill="#0000c8"/>
<rect x="582.52" y="348.83" width="4.8" height="4.8" fill="#0000c8"/>
<rect x="643.36" y="336.72" width="4.8" height="4.8" fill="#0000c8"/>
<path d="M403.53 481.63L404.65 473.18M414.13 460.99L421.09 447.83M426.08 444.82L439.56 444.82M446.35 444.56L459.85 443.54M466.32 441.84L480.44 435.27M485.93 431.43L501.39 416M506.53 411.57L521.35 400.51M527.3 397.39L581.7 378.99M588.3 377.56L642.38 372.15" fill="none" stroke="#454545" stroke-width="0.85"/>
<rect x="400" y="485.4" width="4.8" height="4.8" fill="#000000"/>
<rect x="400.68" y="482.6" width="4.8" height="4.8" fill="#000000"/>
<rect x="402.7" y="467.41" width="4.8" height="4.8" fill="#000000"/>
<rect x="405.41" y="466.5" width="4.8" height="4.8" fill="#000000"/>
<rect x="410.14" y="461.6" width="4.8" height="4.8" fill="#000000"/>
<rect x="420.28" y="442.42" width="4.8" height="4.8" fill="#000000"/>
<rect x="440.56" y="442.42" width="4.8" height="4.8" fill="#000000"/>
<rect x="460.84" y="440.88" width="4.8" height="4.8" fill="#000000"/>
<rect x="481.12" y="431.43" width="4.8" height="4.8" fill="#000000"/>
<rect x="501.4" y="411.2" width="4.8" height="4.8" fill="#000000"/>
<rect x="521.68" y="396.08" width="4.8" height="4.8" fill="#000000"/>
<rect x="582.52" y="375.5" width="4.8" height="4.8" fill="#000000"/>
<rect x="643.36" y="369.41" width="4.8" height="4.8" fill="#000000"/></g>
<g><path d="M45.5 543.4V774.55H332.8" fill="none" stroke="#424242" stroke-width="1.5"/>
<text x="37.9" y="767.2" class="t" text-anchor="end">0.0</text>
<text x="37.9" y="747.1" class="t" text-anchor="end">0.2</text>
<text x="37.9" y="727" class="t" text-anchor="end">0.4</text>
<text x="37.9" y="706.9" class="t" text-anchor="end">0.6</text>
<text x="37.9" y="686.8" class="t" text-anchor="end">0.8</text>
<text x="37.9" y="666.7" class="t" text-anchor="end">1.0</text>
<text x="37.9" y="646.6" class="t" text-anchor="end">1.2</text>
<text x="37.9" y="626.5" class="t" text-anchor="end">1.4</text>
<text x="37.9" y="606.4" class="t" text-anchor="end">1.6</text>
<text x="37.9" y="586.3" class="t" text-anchor="end">1.8</text>
<text x="37.9" y="566.2" class="t" text-anchor="end">2.0</text>
<text x="37.9" y="546.1" class="t" text-anchor="end">2.2</text>
<text x="62.4" y="789.15" class="t" text-anchor="middle">0</text>
<text x="96.2" y="789.15" class="t" text-anchor="middle">50</text>
<text x="130" y="789.15" class="t" text-anchor="middle">100</text>
<text x="163.8" y="789.15" class="t" text-anchor="middle">150</text>
<text x="197.6" y="789.15" class="t" text-anchor="middle">200</text>
<text x="231.4" y="789.15" class="t" text-anchor="middle">250</text>
<text x="265.2" y="789.15" class="t" text-anchor="middle">300</text>
<text x="299" y="789.15" class="t" text-anchor="middle">350</text>
<text x="332.8" y="789.15" class="t" text-anchor="middle">400</text>
<path d="M45.5 764.5h-4.6M45.5 754.45h-2.6M45.5 744.4h-4.6M45.5 734.35h-2.6M45.5 724.3h-4.6M45.5 714.25h-2.6M45.5 704.2h-4.6M45.5 694.15h-2.6M45.5 684.1h-4.6M45.5 674.05h-2.6M45.5 664h-4.6M45.5 653.95h-2.6M45.5 643.9h-4.6M45.5 633.85h-2.6M45.5 623.8h-4.6M45.5 613.75h-2.6M45.5 603.7h-4.6M45.5 593.65h-2.6M45.5 583.6h-4.6M45.5 573.55h-2.6M45.5 563.5h-4.6M45.5 553.45h-2.6M45.5 543.4h-4.6M45.5 774.55h-2.6M62.4 774.55v4.4M96.2 774.55v4.4M130 774.55v4.4M163.8 774.55v4.4M197.6 774.55v4.4M231.4 774.55v4.4M265.2 774.55v4.4M299 774.55v4.4M332.8 774.55v4.4M45.5 774.55v2.6M79.3 774.55v2.6M113.1 774.55v2.6M146.9 774.55v2.6M180.7 774.55v2.6M214.5 774.55v2.6M248.3 774.55v2.6M282.1 774.55v2.6M315.9 774.55v2.6" fill="none" stroke="#424242" stroke-width="1.3"/>
<text x="0" y="0" class="ti" text-anchor="middle" transform="translate(12.8 647) rotate(-90)">Concentration(mg/L)</text>
<text x="189.5" y="796.8" class="ti" text-anchor="middle">Time(day)</text>
<text x="67.7" y="578.8" class="lg">(e. <tspan dx="0.8">)</tspan></text>
<rect x="70.5" y="545.5" width="37" height="14" fill="#fff" stroke="#6e6e6e" stroke-width="1"/>
<path d="M70.1 552.5h7.8M88.3 552.5h7.8" stroke="#707070" stroke-width="1"/>
<rect x="81" y="550" width="5" height="5" fill="#000000"/>
<text x="101.1" y="555.9" class="lg" text-anchor="middle">0</text>
<rect x="111.5" y="545.5" width="49" height="14" fill="#fff" stroke="#6e6e6e" stroke-width="1"/>
<path d="M111.3 552.4h7.8M129.5 552.4h7.8" stroke="#e888e8" stroke-width="1"/>
<rect x="122.2" y="549.9" width="5" height="5" fill="#ff00ff"/>
<text x="140.3" y="555.8" class="lg">200</text>
<rect x="165.5" y="544.5" width="49" height="15" fill="#fff" stroke="#6e6e6e" stroke-width="1"/>
<path d="M165.3 551.6h7.8M183.5 551.6h7.8" stroke="#9090e8" stroke-width="1"/>
<rect x="176.2" y="549.1" width="5" height="5" fill="#0000ff"/>
<text x="194.3" y="555" class="lg">350</text>
<rect x="218.5" y="545.5" width="49" height="14" fill="#fff" stroke="#6e6e6e" stroke-width="1"/>
<path d="M218.6 552.4h7.8M236.8 552.4h7.8" stroke="#ee8080" stroke-width="1"/>
<rect x="229.5" y="549.9" width="5" height="5" fill="#ff0000"/>
<text x="247.6" y="555.8" class="lg">500</text>
<path d="M73.62 698.97L81.6 675.26M85.98 671.22L99.66 667.83M106.35 666.76L119.85 665.76M126.64 665.42L140.12 665.09M145.81 662.49L161.51 645.31M166.4 640.6L181.48 627.9M187.27 624.52L241.73 604.19M248.11 601.81L302.57 581.57" fill="none" stroke="#e860e8" stroke-width="0.85"/>
<rect x="60" y="718.38" width="4.8" height="4.8" fill="#c000c8"/>
<rect x="60.68" y="711.85" width="4.8" height="4.8" fill="#c000c8"/>
<rect x="62.7" y="706.83" width="4.8" height="4.8" fill="#c000c8"/>
<rect x="65.41" y="703.81" width="4.8" height="4.8" fill="#c000c8"/>
<rect x="70.14" y="699.79" width="4.8" height="4.8" fill="#c000c8"/>
<rect x="80.28" y="669.64" width="4.8" height="4.8" fill="#c000c8"/>
<rect x="100.56" y="664.62" width="4.8" height="4.8" fill="#c000c8"/>
<rect x="120.84" y="663.11" width="4.8" height="4.8" fill="#c000c8"/>
<rect x="141.12" y="662.61" width="4.8" height="4.8" fill="#c000c8"/>
<rect x="161.4" y="640.39" width="4.8" height="4.8" fill="#c000c8"/>
<rect x="181.68" y="623.31" width="4.8" height="4.8" fill="#c000c8"/>
<rect x="242.52" y="600.6" width="4.8" height="4.8" fill="#c000c8"/>
<rect x="303.36" y="577.98" width="4.8" height="4.8" fill="#c000c8"/>
<path d="M69.33 703.17L71.02 699.8M73.85 693.63L81.37 675.68M85.87 671.36L99.77 666.19M106.26 664.17L119.94 660.71M126.43 658.71L140.33 653.61M146.24 650.41L161.08 639.3M166.43 635.11L181.45 622.84M187.12 619.15L241.88 591.56M248.04 588.68L302.64 565.05" fill="none" stroke="#6060e8" stroke-width="0.85"/>
<rect x="60" y="707.43" width="4.8" height="4.8" fill="#0000c8"/>
<rect x="60.68" y="706.83" width="4.8" height="4.8" fill="#0000c8"/>
<rect x="62.7" y="704.82" width="4.8" height="4.8" fill="#0000c8"/>
<rect x="65.41" y="703.81" width="4.8" height="4.8" fill="#0000c8"/>
<rect x="70.14" y="694.36" width="4.8" height="4.8" fill="#0000c8"/>
<rect x="80.28" y="670.14" width="4.8" height="4.8" fill="#0000c8"/>
<rect x="100.56" y="662.61" width="4.8" height="4.8" fill="#0000c8"/>
<rect x="120.84" y="657.48" width="4.8" height="4.8" fill="#0000c8"/>
<rect x="141.12" y="650.04" width="4.8" height="4.8" fill="#0000c8"/>
<rect x="161.4" y="634.87" width="4.8" height="4.8" fill="#0000c8"/>
<rect x="181.68" y="618.28" width="4.8" height="4.8" fill="#0000c8"/>
<rect x="242.52" y="587.63" width="4.8" height="4.8" fill="#0000c8"/>
<rect x="303.36" y="561.3" width="4.8" height="4.8" fill="#0000c8"/>
<path d="M62.67 710.86L62.8 709.2M73.53 699.94L81.69 673.28M85.79 668.65L99.85 662.37M105.62 658.86L120.58 646.92M126.59 644.22L140.17 641.87M146.44 639.55L160.88 630.96M166.1 626.72L181.78 609.62M187.35 606.2L241.65 590.95M247.85 588.31L302.83 555.98" fill="none" stroke="#ee6060" stroke-width="0.85"/>
<rect x="60" y="711.85" width="4.8" height="4.8" fill="#cc0000"/>
<rect x="60.68" y="703.41" width="4.8" height="4.8" fill="#cc0000"/>
<rect x="62.7" y="703.31" width="4.8" height="4.8" fill="#cc0000"/>
<rect x="65.41" y="702.81" width="4.8" height="4.8" fill="#cc0000"/>
<rect x="70.14" y="700.8" width="4.8" height="4.8" fill="#cc0000"/>
<rect x="80.28" y="667.63" width="4.8" height="4.8" fill="#cc0000"/>
<rect x="100.56" y="658.59" width="4.8" height="4.8" fill="#cc0000"/>
<rect x="120.84" y="642.4" width="4.8" height="4.8" fill="#cc0000"/>
<rect x="141.12" y="638.89" width="4.8" height="4.8" fill="#cc0000"/>
<rect x="161.4" y="626.83" width="4.8" height="4.8" fill="#cc0000"/>
<rect x="181.68" y="604.72" width="4.8" height="4.8" fill="#cc0000"/>
<rect x="242.52" y="587.63" width="4.8" height="4.8" fill="#cc0000"/>
<rect x="303.36" y="551.85" width="4.8" height="4.8" fill="#cc0000"/>
<path d="M62.58 719.9L62.9 713.63M69.63 701.33L70.71 699.63M73.71 693.57L81.51 672.22M86.08 669.11L99.56 669.44M106.34 669.19L119.86 667.85M126.64 667.52L140.12 667.52M146.15 665.37L161.17 653.09M166.12 648.45L181.76 631.71M187.2 627.88L241.8 604.34M248.3 602.66L302.38 597.3" fill="none" stroke="#454545" stroke-width="0.85"/>
<rect x="60" y="720.89" width="4.8" height="4.8" fill="#000000"/>
<rect x="60.68" y="707.83" width="4.8" height="4.8" fill="#000000"/>
<rect x="62.7" y="706.83" width="4.8" height="4.8" fill="#000000"/>
<rect x="65.41" y="701.8" width="4.8" height="4.8" fill="#000000"/>
<rect x="70.14" y="694.36" width="4.8" height="4.8" fill="#000000"/>
<rect x="80.28" y="666.62" width="4.8" height="4.8" fill="#000000"/>
<rect x="100.56" y="667.13" width="4.8" height="4.8" fill="#000000"/>
<rect x="120.84" y="665.12" width="4.8" height="4.8" fill="#000000"/>
<rect x="141.12" y="665.12" width="4.8" height="4.8" fill="#000000"/>
<rect x="161.4" y="648.54" width="4.8" height="4.8" fill="#000000"/>
<rect x="181.68" y="626.83" width="4.8" height="4.8" fill="#000000"/>
<rect x="242.52" y="600.6" width="4.8" height="4.8" fill="#000000"/>
<rect x="303.36" y="594.57" width="4.8" height="4.8" fill="#000000"/></g>
</svg>
</body></html>
